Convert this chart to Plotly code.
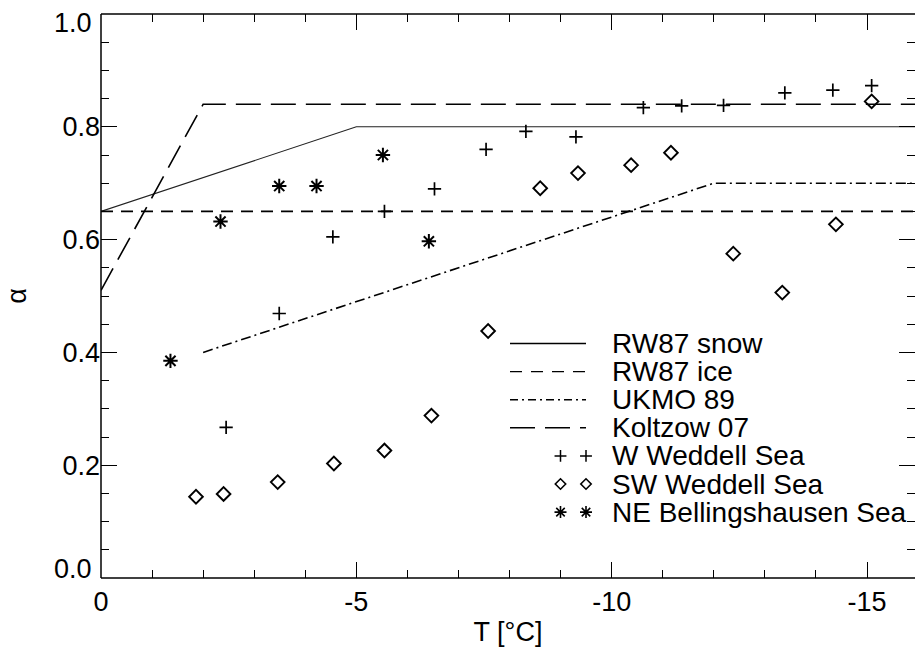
import plotly.graph_objects as go

# ---------------- data ----------------
snow_T = [0, -5, -16]
snow_a = [0.65, 0.80, 0.80]
ice_T = [0, -16]
ice_a = [0.65, 0.65]
ukmo_T = [-2, -12, -16]
ukmo_a = [0.40, 0.70, 0.70]
kolt_T = [0, -2, -16]
kolt_a = [0.51, 0.84, 0.84]

ww_T = [-2.45, -3.49, -4.54, -5.55, -6.53, -7.54, -8.32, -9.30, -10.62, -11.37, -12.19, -13.39, -14.33, -15.09]
ww_a = [0.267, 0.469, 0.605, 0.650, 0.690, 0.760, 0.792, 0.782, 0.834, 0.837, 0.838, 0.860, 0.865, 0.873]
sw_T = [-1.86, -2.40, -3.46, -4.56, -5.55, -6.47, -7.58, -8.60, -9.34, -10.38, -11.16, -12.38, -13.34, -14.39, -15.09]
sw_a = [0.144, 0.149, 0.170, 0.203, 0.226, 0.288, 0.438, 0.691, 0.718, 0.732, 0.754, 0.575, 0.506, 0.627, 0.845]
ne_T = [-1.36, -2.34, -3.49, -4.22, -5.52, -6.42]
ne_a = [0.385, 0.632, 0.695, 0.695, 0.750, 0.597]

x_tickvals = [0, -5, -10, -15]
x_ticktext = ["0", "-5", "-10", "-15"]
y_tickvals = [0.0, 0.2, 0.4, 0.6, 0.8, 1.0]
y_ticktext = ["0.0", "0.2", "0.4", "0.6", "0.8", "1.0"]

legend_labels = ["RW87 snow", "RW87 ice", "UKMO 89", "Koltzow 07",
                 "W Weddell Sea", "SW Weddell Sea", "NE Bellingshausen Sea"]

# ---------------- styles ----------------
W, H = 915, 654
ML, MR, MT, MB = 101, 0, 14, 76
PW, PH = W - ML - MR, H - MT - MB
FONT = "Liberation Sans, Arial, Helvetica, sans-serif"
TICK_SIZE = 27

line_styles = [
    dict(color="#222", width=1.1, dash="solid"),
    dict(color="black", width=1.6, dash="12px,8px"),
    dict(color="black", width=1.6, dash="10px,4px,2px,4px"),
    dict(color="black", width=1.6, dash="25px,10px"),
]
legend_line_styles = [
    dict(color="black", width=1.6, dash="solid"),
    dict(color="black", width=1.4, dash="12px,9px"),
    dict(color="black", width=1.4, dash="8px,4px,2px,4px"),
    dict(color="black", width=1.6, dash="25px,10px"),
]
marker_styles = [
    dict(symbol="cross-thin-open", size=9.5, color="black", line=dict(color="black", width=1.7)),
    dict(symbol="diamond-open", size=10.5, color="black", line=dict(color="black", width=1.9)),
    dict(symbol="asterisk-open", size=12, color="black", line=dict(color="black", width=2.0)),
]
legend_marker_styles = [
    dict(symbol="cross-thin-open", size=8.5, color="black", line=dict(color="black", width=1.5)),
    dict(symbol="diamond-open", size=8, color="black", line=dict(color="black", width=1.6)),
    dict(symbol="asterisk-open", size=10, color="black", line=dict(color="black", width=1.6)),
]

def px2x(px):
    return (px - ML) / PW

def py2y(py):
    return (H - MB - py) / PH

fig = go.Figure()

for (Tx, Ay), st, name in zip([(snow_T, snow_a), (ice_T, ice_a), (ukmo_T, ukmo_a), (kolt_T, kolt_a)],
                              line_styles, legend_labels[:4]):
    fig.add_trace(go.Scatter(x=Tx, y=Ay, mode="lines", line=st, name=name, showlegend=False))

for (Tx, Ay), st, name in zip([(ww_T, ww_a), (sw_T, sw_a), (ne_T, ne_a)],
                              marker_styles, legend_labels[4:]):
    fig.add_trace(go.Scatter(x=Tx, y=Ay, mode="markers", marker=st, name=name, showlegend=False))

# ---------------- manual legend ----------------
leg_x0, leg_x1 = 510, 586
leg_m1, leg_m2 = 560.5, 586
leg_text_x = 610
leg_row0, leg_dy = 343.5, 28.1

shapes = []
annotations = []
for i, lab in enumerate(legend_labels):
    yy = py2y(leg_row0 + i * leg_dy)
    if i < 4:
        shapes.append(dict(type="line", xref="paper", yref="paper",
                           x0=px2x(leg_x0), x1=px2x(leg_x1), y0=yy, y1=yy,
                           line=legend_line_styles[i]))
    else:
        fig.add_trace(go.Scatter(x=[px2x(leg_m1), px2x(leg_m2)], y=[yy, yy], mode="markers",
                                 marker=legend_marker_styles[i - 4], xaxis="x2", yaxis="y2",
                                 showlegend=False, hoverinfo="skip", cliponaxis=False))
    annotations.append(dict(x=px2x(leg_text_x), y=yy, xref="paper", yref="paper",
                            text=lab, showarrow=False, xanchor="left", yanchor="middle",
                            font=dict(family=FONT, size=28, color="black")))

# frame lines: left, bottom, top (right edge falls outside the picture)
frame = dict(color="black", width=1.5)
shapes += [
    dict(type="line", xref="paper", yref="paper", x0=0, x1=0, y0=0, y1=1, line=frame, layer="above"),
    dict(type="line", xref="paper", yref="paper", x0=0, x1=1.01, y0=0, y1=0, line=frame, layer="above"),
    dict(type="line", xref="paper", yref="paper", x0=0, x1=1.01, y0=1, y1=1, line=frame, layer="above"),
]

# end labels of the y axis are kept inside the frame (as in the original)
y_labels_shown = list(y_ticktext)
for idx, shift in ((0, -9), (len(y_tickvals) - 1, 9)):
    y_labels_shown[idx] = ""
    annotations.append(dict(x=px2x(94), y=py2y(H - MB - y_tickvals[idx] * PH + shift),
                            xref="paper", yref="paper", text=y_ticktext[idx], showarrow=False,
                            xanchor="right", yanchor="middle",
                            font=dict(family=FONT, size=TICK_SIZE, color="black")))

axis_common = dict(
    showline=False, mirror="ticks",
    ticks="inside", ticklen=16, tickwidth=1.3, tickcolor="black",
    showgrid=False, zeroline=False,
    tickfont=dict(family=FONT, size=TICK_SIZE, color="black"),
)

fig.update_layout(
    width=W, height=H,
    margin=dict(l=ML, r=MR, t=MT, b=MB),
    paper_bgcolor="white", plot_bgcolor="white",
    font=dict(family=FONT, color="black"),
    showlegend=False,
    xaxis=dict(range=[0, -PW / 51.07], tickvals=x_tickvals, ticktext=x_ticktext,
               ticklabelstandoff=5,
               minor=dict(dtick=1, ticks="inside", ticklen=8, tickwidth=1.1, tickcolor="black", showgrid=False),
               title=dict(text="T [°C]", font=dict(family=FONT, size=27, color="black"), standoff=6),
               **axis_common),
    yaxis=dict(range=[0, 1], tickvals=y_tickvals, ticktext=y_labels_shown,
               minor=dict(dtick=0.05, ticks="inside", ticklen=8, tickwidth=1.1, tickcolor="black", showgrid=False),
               title=dict(text="α", font=dict(family=FONT, size=27, color="black"), standoff=28),
               **axis_common),
    xaxis2=dict(range=[0, 1], overlaying="x", visible=False, fixedrange=True),
    yaxis2=dict(range=[0, 1], overlaying="y", visible=False, fixedrange=True),
    shapes=shapes,
    annotations=annotations,
)

fig.write_html("out.html")
